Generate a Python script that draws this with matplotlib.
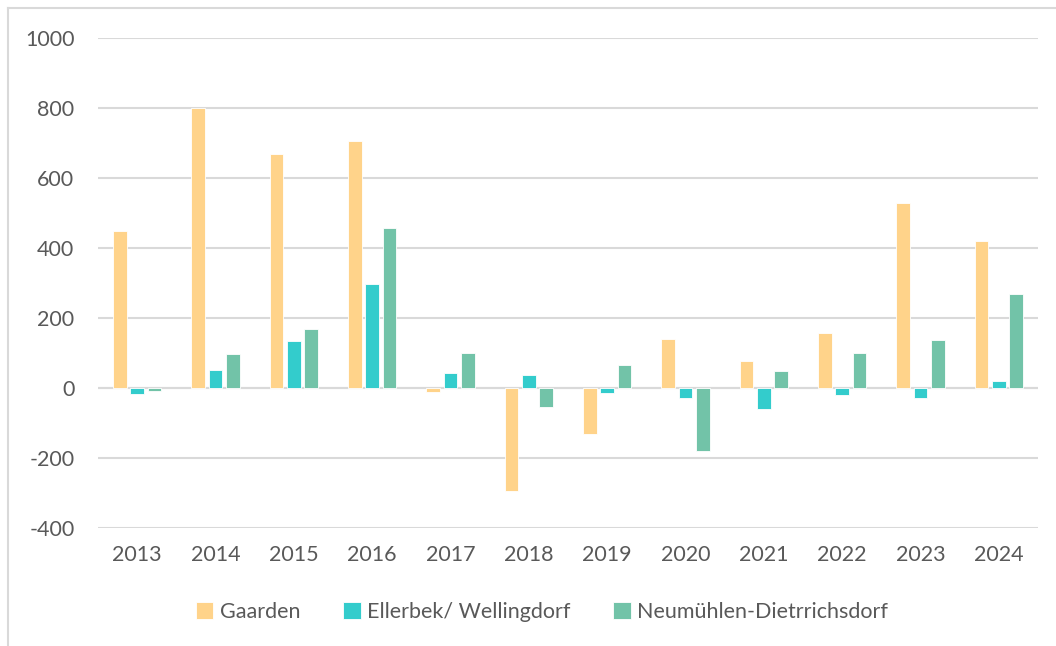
import numpy as np
import matplotlib
matplotlib.use("Agg")
import matplotlib.pyplot as plt

years = ["2013", "2014", "2015", "2016", "2017", "2018",
         "2019", "2020", "2021", "2022", "2023", "2024"]
gaarden = [448, 800, 669, 706, -10, -294, -131, 140, 77, 157, 529, 420]
ellerbek = [-17, 51, 134, 297, 43, 37, -15, -29, -60, -20, -29, 20]
neumuehlen = [-8, 97, 169, 457, 100, -54, 66, -180, 49, 100, 137, 269]

series = [("Gaarden", gaarden, "#FFD38A"),
          ("Ellerbek/ Wellingdorf", ellerbek, "#33CCCC"),
          ("Neumühlen-Dietrrichsdorf", neumuehlen, "#72C3A8")]

plt.rcParams["font.family"] = ["Lato", "DejaVu Sans"]
plt.rcParams["axes.unicode_minus"] = False
text_col = "#595959"

fig = plt.figure(figsize=(10.56, 6.46), dpi=100)
ax = fig.add_axes([98 / 1056, 1 - 528 / 646, 940 / 1056, 490 / 646])

x = np.arange(len(years))
step = 17.3 / 78.3
width = 13.8 / 78.3
for i, (name, vals, col) in enumerate(series):
    ax.bar(x + (i - 1) * step, vals, width, color=col, label=name,
           edgecolor="white", linewidth=0.6, zorder=3)

ax.set_xlim(-0.5, len(years) - 0.5)
ax.set_ylim(-400, 1000)
ax.set_yticks(range(-400, 1001, 200))
ax.set_xticks(x)
ax.set_xticklabels(years)
ax.yaxis.grid(True, color="#D9D9D9", linewidth=1.5, zorder=0)
ax.axhline(0, color="#D9D9D9", linewidth=1.5, zorder=2)
for s in ax.spines.values():
    s.set_visible(False)
ax.tick_params(length=0, labelsize=15.5, labelcolor=text_col)
ax.tick_params(axis="y", pad=17)
ax.tick_params(axis="x", pad=12)

leg = fig.legend(loc="center", bbox_to_anchor=(542 / 1056, 1 - 612 / 646),
                 ncol=3, frameon=False, fontsize=15.5, handlelength=0.8,
                 handleheight=0.8, handletextpad=0.3, columnspacing=2.0)
for t in leg.get_texts():
    t.set_color(text_col)

# outer chart border (only top and left visible in the crop)
fig.add_artist(plt.Line2D([8 / 1056, 8 / 1056], [0, 1 - 8 / 646],
                          transform=fig.transFigure, color="#D9D9D9", lw=1.5))
fig.add_artist(plt.Line2D([8 / 1056, 1], [1 - 8 / 646, 1 - 8 / 646],
                          transform=fig.transFigure, color="#D9D9D9", lw=1.5))

fig.savefig("out.png", dpi=100)
